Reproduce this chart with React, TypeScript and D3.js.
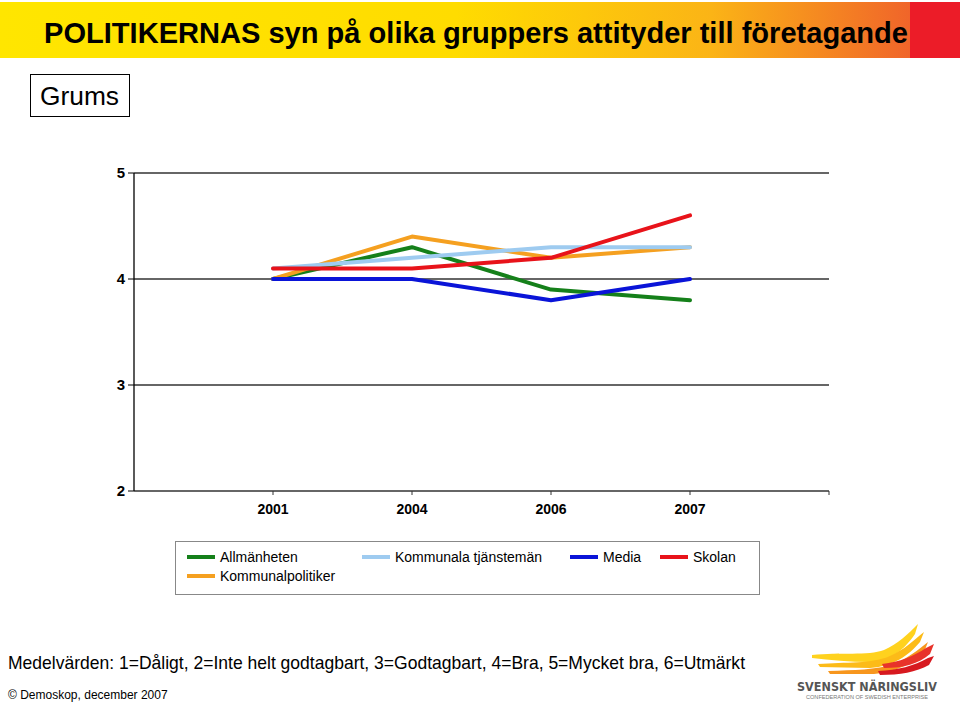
import React, { useEffect, useRef } from 'react';
import * as d3 from 'd3';

const years = ['2001', '2004', '2006', '2007'];
const seriesNames = ['Allmänheten', 'Kommunalpolitiker', 'Kommunala tjänstemän', 'Media', 'Skolan'];
const seriesColors = ['#15801a', '#f5a020', '#9ecbf0', '#0a14d8', '#e8131a'];
const allmanheten = [4.0, 4.3, 3.9, 3.8];
const kommunalpolitiker = [4.0, 4.4, 4.2, 4.3];
const tjanstemen = [4.1, 4.2, 4.3, 4.3];
const media = [4.0, 4.0, 3.8, 4.0];
const skolan = [4.1, 4.1, 4.2, 4.6];
const yTicks = [2, 3, 4, 5];

const App = () => {
  const ref = useRef<SVGSVGElement>(null);

  useEffect(() => {
    const svg = d3.select(ref.current);
    svg.selectAll('*').remove();

    const W = 960;
    const H = 702;
    const narrow = '"Liberation Sans Narrow", "Arial Narrow", "Liberation Sans", Arial, sans-serif';
    const font = '"Liberation Sans", Arial, sans-serif';

    // header band
    const defs = svg.append('defs');
    const grad = defs.append('linearGradient').attr('id', 'hdr').attr('x1', '0').attr('x2', '1');
    grad.append('stop').attr('offset', '0').attr('stop-color', '#ffe600');
    grad.append('stop').attr('offset', '0.5').attr('stop-color', '#ffdc00');
    grad.append('stop').attr('offset', '0.78').attr('stop-color', '#fbb416');
    grad.append('stop').attr('offset', '1').attr('stop-color', '#f0642a');
    svg.append('rect').attr('x', 0).attr('y', 0).attr('width', W).attr('height', H).attr('fill', '#fff');
    svg.append('rect').attr('x', 0).attr('y', 2).attr('width', 912).attr('height', 56).attr('fill', 'url(#hdr)');
    svg.append('rect').attr('x', 910).attr('y', 2).attr('width', 50).attr('height', 56).attr('fill', '#ec1c28');

    svg.append('text')
      .attr('x', 44).attr('y', 43)
      .attr('font-family', narrow)
      .attr('font-weight', 'bold').attr('font-size', 30)
      .attr('textLength', 864).attr('lengthAdjust', 'spacingAndGlyphs')
      .attr('fill', '#000')
      .text('POLITIKERNAS syn på olika gruppers attityder till företagande');

    // Grums box
    svg.append('rect').attr('x', 30.5).attr('y', 74.5).attr('width', 99).attr('height', 42)
      .attr('fill', '#fff').attr('stroke', '#000').attr('stroke-width', 1);
    svg.append('text').attr('x', 40).attr('y', 105)
      .attr('font-family', narrow)
      .attr('font-size', 26).attr('textLength', 79).attr('lengthAdjust', 'spacingAndGlyphs')
      .text('Grums');

    // chart
    const left = 134, right = 829, top = 173, bottom = 491;
    const x = d3.scalePoint<string>().domain(['', ...years, ' ']).range([left, right]);
    const y = d3.scaleLinear().domain([2, 5]).range([bottom, top]);

    const g = svg.append('g');
    yTicks.forEach(t => {
      if (t > 2) {
        g.append('line').attr('x1', left).attr('x2', right).attr('y1', y(t)).attr('y2', y(t))
          .attr('stroke', '#333').attr('stroke-width', 1.5);
      }
      g.append('line').attr('x1', left - 6).attr('x2', left).attr('y1', y(t)).attr('y2', y(t))
        .attr('stroke', '#000').attr('stroke-width', 1);
      g.append('text').attr('x', left - 9).attr('y', y(t) + 5)
        .attr('text-anchor', 'end').attr('font-family', font).attr('font-weight', 'bold')
        .attr('font-size', 15).text(String(t));
    });
    g.append('line').attr('x1', left).attr('x2', right).attr('y1', bottom).attr('y2', bottom)
      .attr('stroke', '#333').attr('stroke-width', 1.5);
    g.append('line').attr('x1', left).attr('x2', left).attr('y1', top).attr('y2', bottom)
      .attr('stroke', '#000').attr('stroke-width', 1.3);
    [...years, ' '].forEach(c => {
      g.append('line').attr('x1', x(c)).attr('x2', x(c)).attr('y1', bottom).attr('y2', bottom + 4)
        .attr('stroke', '#333');
    });
    years.forEach(c => {
      g.append('text').attr('x', x(c)).attr('y', bottom + 23)
        .attr('text-anchor', 'middle').attr('font-family', font).attr('font-weight', 'bold')
        .attr('font-size', 14).text(c);
    });

    const data = [allmanheten, kommunalpolitiker, tjanstemen, media, skolan];
    const line = d3.line<number>().x((d, i) => x(years[i]) as number).y(d => y(d));
    data.forEach((s, i) => {
      g.append('path').attr('d', line(s)).attr('fill', 'none')
        .attr('stroke', seriesColors[i]).attr('stroke-width', 4).attr('stroke-linejoin', 'round')
        .attr('stroke-linecap', 'round');
    });

    // legend
    svg.append('rect').attr('x', 175.5).attr('y', 541.5).attr('width', 584).attr('height', 53)
      .attr('fill', '#fff').attr('stroke', '#888');
    const legendPos = [
      [187, 557], [187, 576], [362, 557], [570, 557], [660, 557]
    ];
    seriesNames.forEach((n, i) => {
      const [lx, ly] = legendPos[i];
      svg.append('line').attr('x1', lx).attr('x2', lx + 28).attr('y1', ly).attr('y2', ly)
        .attr('stroke', seriesColors[i]).attr('stroke-width', 4);
      svg.append('text').attr('x', lx + 33).attr('y', ly + 5)
        .attr('font-family', font).attr('font-size', 14).text(n);
    });

    // footnotes
    svg.append('text').attr('x', 8).attr('y', 669)
      .attr('font-family', narrow)
      .attr('font-size', 19).attr('textLength', 737).attr('lengthAdjust', 'spacingAndGlyphs')
      .text('Medelvärden: 1=Dåligt, 2=Inte helt godtagbart, 3=Godtagbart, 4=Bra, 5=Mycket bra, 6=Utmärkt');
    svg.append('text').attr('x', 8).attr('y', 699)
      .attr('font-family', font).attr('font-size', 12).text('© Demoskop, december 2007');

    // logo (rough wing shape)
    const logo = svg.append('g');
    const feathers = [
      { d: 'M812,655 C840,652 868,656 884,650 C898,644 908,634 918,624 L915,634 C904,650 892,660 870,662 C850,662 830,660 812,658 Z', c: '#ffd21e' },
      { d: 'M818,664 C846,662 872,664 890,656 C904,650 914,640 924,632 L920,642 C908,656 894,666 870,668 C852,668 836,667 820,667 Z', c: '#fcbb18' },
      { d: 'M828,671 C854,670 876,670 894,664 C908,658 918,650 928,642 L924,652 C912,664 896,672 874,674 C858,674 842,674 830,674 Z', c: '#f7961d' },
      { d: 'M882,664 C900,662 914,656 926,648 L934,644 L930,654 C918,664 904,668 884,668 Z', c: '#e8332a' },
      { d: 'M878,671 C898,670 914,666 928,658 L934,656 L929,665 C916,672 900,675 880,675 Z', c: '#d7191f' }
    ];
    feathers.forEach(f => logo.append('path').attr('d', f.d).attr('fill', f.c));
    logo.append('text').attr('x', 797).attr('y', 691)
      .attr('font-family', '"DejaVu Sans", Verdana, sans-serif').attr('font-weight', 'bold')
      .attr('font-size', 12).attr('fill', '#555').attr('textLength', 140).attr('lengthAdjust', 'spacingAndGlyphs')
      .text('SVENSKT NÄRINGSLIV');
    logo.append('text').attr('x', 806).attr('y', 699)
      .attr('font-family', font).attr('font-size', 4.5).attr('fill', '#777')
      .attr('textLength', 122).attr('lengthAdjust', 'spacingAndGlyphs')
      .text('CONFEDERATION OF SWEDISH ENTERPRISE');
  }, []);

  return (
    <svg ref={ref} width={960} height={702}
      style={{ position: 'absolute', left: 0, top: 0, display: 'block' }} />
  );
};

export default App;
